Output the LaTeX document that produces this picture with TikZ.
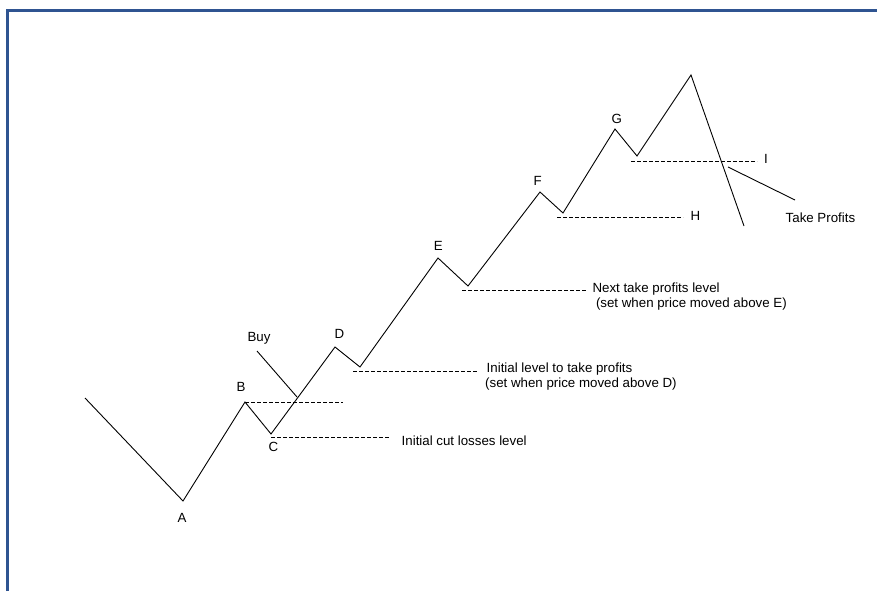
\documentclass[tikz,border=0pt]{standalone}
\usepackage{fontspec}
\setmainfont{Liberation Sans}
\definecolor{framebl}{RGB}{47,84,145}
\begin{document}
\begin{tikzpicture}[x=1pt,y=-1pt,
  price/.style={line width=0.9pt,line join=miter},
  level/.style={line width=0.8pt,dash pattern=on 3.5pt off 2.5pt},
  lbl/.style={inner sep=0pt,font=\fontsize{13.3}{14.8}\selectfont},
  pointer/.style={line width=0.9pt},
]
\useasboundingbox (0,0) rectangle (877,591);
% frame
\draw[framebl,line width=2.2pt] (7.5,591) -- (7.5,10.5) -- (877,10.5);
% price path points
\coordinate (s) at (85,398);
\coordinate (pA) at (183,501);
\coordinate (pB) at (245,402);
\coordinate (pC) at (271,434);
\coordinate (pD) at (335,347);
\coordinate (d1) at (360,367);
\coordinate (pE) at (438,258);
\coordinate (e1) at (468,286);
\coordinate (pF) at (540,192);
\coordinate (f1) at (563,213);
\coordinate (pG) at (615,129);
\coordinate (g1) at (637,156);
\coordinate (pP) at (691,75);
\coordinate (pZ) at (744,226);
\draw[price] (s) -- (pA) -- (pB) -- (pC) -- (pD) -- (d1) -- (pE) -- (e1)
  -- (pF) -- (f1) -- (pG) -- (g1) -- (pP) -- (pZ);
% level ends
\coordinate (bL) at (245,402);  \coordinate (bR) at (343,402);
\coordinate (cL) at (271,437);  \coordinate (cR) at (390,437);
\coordinate (dL) at (353,371);  \coordinate (dR) at (477,371);
\coordinate (eL) at (462,290);  \coordinate (eR) at (586,290);
\coordinate (hL) at (557,217);  \coordinate (hR) at (683,217);
\coordinate (iL) at (631,161);  \coordinate (iR) at (757,161);
\draw[level] (bL) -- (bR);
\draw[level] (cL) -- (cR);
\draw[level] (dL) -- (dR);
\draw[level] (eL) -- (eR);
\draw[level] (hL) -- (hR);
\draw[level] (iL) -- (iR);
% pointers
\coordinate (buyS) at (257,351);  \coordinate (buyE) at (297,397);
\coordinate (tpS) at (728,167);   \coordinate (tpE) at (795,200);
\draw[pointer] (buyS) -- (buyE);
\draw[pointer] (tpS) -- (tpE);
% labels
\node[lbl,anchor=base] (lA) at (182,522.7) {A};
\node[lbl,anchor=base] (lB) at (241,391) {B};
\node[lbl,anchor=base] (lC) at (273.5,451.5) {C};
\node[lbl,anchor=base] (lD) at (339.3,338.3) {D};
\node[lbl,anchor=base] (lE) at (438.3,250) {E};
\node[lbl,anchor=base] (lF) at (537.7,185.7) {F};
\node[lbl,anchor=base] (lG) at (616.7,123.3) {G};
\node[lbl,anchor=base] (lBuy) at (259,341) {Buy};
\node[lbl,anchor=base west] (lH) at (690.3,220) {H};
\node[lbl,anchor=base west] (lI) at (764,163.3) {I};
\node[lbl,anchor=base west] (lTP) at (785.5,222.7) {Take Profits};
\node[lbl,anchor=base west] (lcut) at (401.5,445) {Initial cut losses level};
\node[lbl,anchor=north west,align=left] (linit) at (485,362.6)
  {\hspace*{1.5pt}Initial level to take profits\\(set when price moved above D)};
\node[lbl,anchor=north west,align=left] (lnext) at (592.3,283.1)
  {Next take profits level\\\hspace*{3.5pt}(set when price moved above E)};
\end{tikzpicture}
\end{document}
